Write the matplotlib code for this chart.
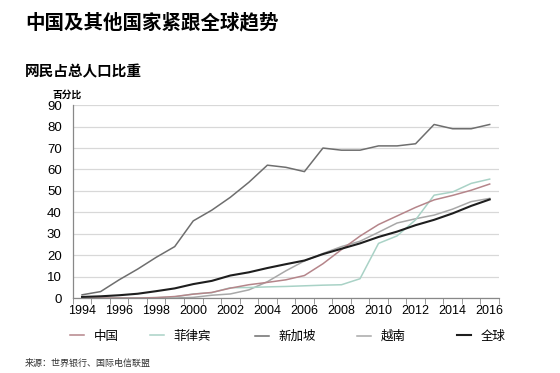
import numpy as np
import matplotlib
matplotlib.use('Agg')
import matplotlib.pyplot as plt

plt.rcParams['font.family'] = ['Liberation Sans', 'Noto Sans CJK SC', 'DejaVu Sans']

years = np.arange(1994, 2017)

# percent of population using the internet
china = [0, 0, 0, 0, 0.2, 0.7, 1.8, 2.6, 4.6, 6.2, 7.3, 8.5, 10.5, 16, 22.6,
         28.9, 34.3, 38.3, 42.3, 45.8, 47.9, 50.3, 53.2]
philippines = [0, 0, 0, 0.1, 0.2, 0.5, 1.9, 2.5, 4.8, 4.9, 5.2, 5.4, 5.7, 6.0, 6.2,
               9.0, 25.5, 29, 36.5, 48, 49.5, 53.5, 55.5]
singapore = [1.5, 3, 8.5, 13.5, 19, 24, 36, 41, 47, 54, 62, 61, 59, 70, 69,
             69, 71, 71, 72, 81, 79, 79, 81]
vietnam = [0, 0, 0, 0, 0, 0, 0.3, 1.3, 1.9, 3.8, 7.6, 12.7, 17.3, 20.8, 24,
           26.5, 30.7, 35, 37, 38.7, 41.5, 45, 46.5]
world = [0.5, 0.8, 1.3, 2, 3.2, 4.5, 6.5, 8, 10.5, 12, 14, 15.8, 17.5, 20.5, 23,
         25.5, 28.5, 31, 34, 36.5, 39.5, 43, 46]

names = ['中国', '菲律宾', '新加坡', '越南', '全球']
colors = ['#b5858a', '#a9d2c6', '#6e6e6e', '#a8a8a8', '#1e1e1e']
widths = [1.1, 1.1, 1.1, 1.1, 1.5]
legend_x = [70, 150, 255, 357, 457]  # pixel x where each legend entry starts

fig = plt.figure(figsize=(5.6, 3.73), dpi=100)
ax = fig.add_axes([0.130, 0.201, 0.761, 0.517])

series = [china, philippines, singapore, vietnam, world]
lines = {}
# draw order: back to front
for i in [3, 1, 0, 2, 4]:
    lines[i], = ax.plot(years, series[i], color=colors[i], lw=widths[i], label=names[i])

ax.set_xlim(1993.5, 2016.5)
ax.set_ylim(0, 90)
ax.set_yticks(np.arange(0, 91, 10))
ax.set_xticks(np.arange(1994, 2017, 2))
ax.set_xticks(np.arange(1993.5, 2017, 1), minor=True)
ax.tick_params(axis='x', which='major', length=0, labelsize=9, pad=5)
ax.tick_params(axis='x', which='minor', length=4, color='#888888', direction='out')
ax.tick_params(axis='y', length=0, labelsize=9.5, pad=8)
ax.grid(axis='y', color='#d8d8d8', lw=0.9)
ax.set_axisbelow(True)
for s in ['top', 'right']:
    ax.spines[s].set_visible(False)
for s in ['left', 'bottom']:
    ax.spines[s].set_color('#888888')
    ax.spines[s].set_linewidth(0.9)

for i in range(5):
    leg = fig.legend([lines[i]], [names[i]], loc='center left',
                     bbox_to_anchor=(legend_x[i] / 560, 0.097), frameon=False,
                     fontsize=9, handlelength=1.1, handletextpad=0.8,
                     borderpad=0, borderaxespad=0)

fig.text(0.045, 0.94, '中国及其他国家紧跟全球趋势', fontsize=14, fontweight='bold', va='center')
fig.text(0.045, 0.805, '网民占总人口比重', fontsize=10.5, fontweight='bold', va='center')
fig.text(0.093, 0.745, '百分比', fontsize=7, fontweight='bold', va='center')
fig.text(0.045, 0.027, '来源：世界银行、国际电信联盟', fontsize=6.5, va='center', color='#333333')

fig.savefig('out.png', dpi=100)
